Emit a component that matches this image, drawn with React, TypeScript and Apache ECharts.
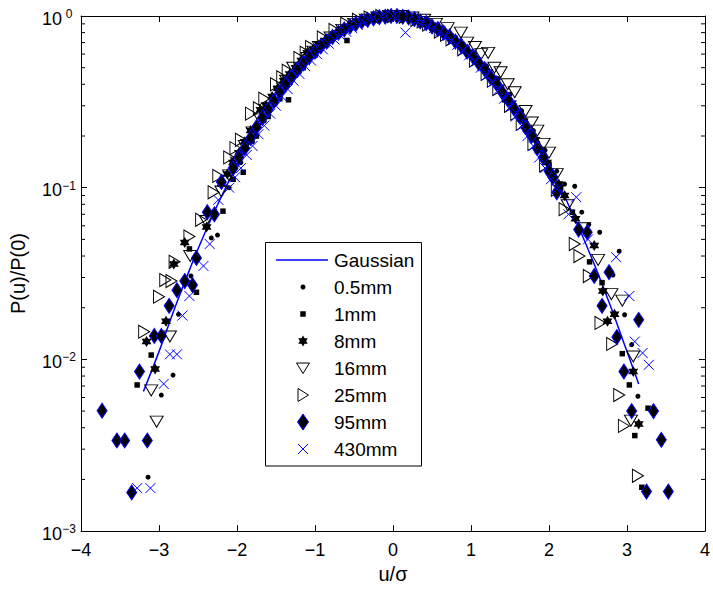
import React, { useEffect, useRef } from 'react';
import * as echarts from 'echarts';

const seriesNames = ['Gaussian', '0.5mm', '1mm', '8mm', '16mm', '25mm', '95mm', '430mm'];

const gaussU = [-3.2, -3.0, -2.8, -2.6, -2.4, -2.2, -2.0, -1.8, -1.6, -1.4, -1.2, -1.0, -0.8, -0.6, -0.4, -0.2, 0, 0.2, 0.4, 0.6, 0.8, 1.0, 1.2, 1.4, 1.6, 1.8, 2.0, 2.2, 2.4, 2.6, 2.8, 3.0, 3.15];
const gaussV = [0.0065, 0.0111, 0.0198, 0.034, 0.0561, 0.0889, 0.135, 0.198, 0.278, 0.375, 0.487, 0.607, 0.726, 0.835, 0.923, 0.98, 1, 0.98, 0.923, 0.835, 0.726, 0.607, 0.487, 0.375, 0.278, 0.198, 0.135, 0.0889, 0.0561, 0.034, 0.0198, 0.0111, 0.0072];

const data05mm = [
  [-3.14, 0.00206], [-2.97, 0.0062], [-2.82, 0.0081], [-2.75, 0.0183], [-2.59, 0.0306], [-2.33, 0.051], [-2.25, 0.053],
  [-2.1, 0.1], [-1.95, 0.14], [-1.8, 0.185], [-1.65, 0.245], [-1.5, 0.31], [-1.35, 0.39], [-1.2, 0.47], [-1.05, 0.57], [-0.9, 0.66], [-0.75, 0.75], [-0.6, 0.84], [-0.45, 0.91], [-0.3, 0.95], [-0.15, 0.99], [0, 1.0], [0.15, 1.0], [0.3, 0.97], [0.45, 0.93], [0.6, 0.86], [0.75, 0.77], [0.9, 0.69], [1.05, 0.6], [1.2, 0.51], [1.35, 0.43], [1.5, 0.35], [1.65, 0.28], [1.8, 0.215], [1.95, 0.165], [2.1, 0.125], [2.2, 0.105],
  [2.33, 0.102], [2.42, 0.072], [2.51, 0.061], [2.65, 0.055], [2.82, 0.031], [2.9, 0.0427], [2.97, 0.0182], [3.06, 0.0122], [3.14, 0.0061],
];
const data1mm = [
  [-3.28, 0.0071], [-3.1, 0.0106], [-2.61, 0.044], [-2.52, 0.0246], [-2.18, 0.073],
  [-2.05, 0.112], [-1.92, 0.123], [-1.75, 0.2], [-1.6, 0.26], [-1.45, 0.33], [-1.34, 0.325], [-1.15, 0.5], [-1.0, 0.59], [-0.85, 0.68], [-0.7, 0.77], [-0.59, 0.72], [-0.4, 0.92], [-0.25, 0.97], [-0.1, 0.99], [0.05, 1.0], [0.2, 0.98], [0.35, 0.94], [0.5, 0.88], [0.65, 0.8], [0.8, 0.72], [0.95, 0.63], [1.1, 0.54], [1.25, 0.45], [1.43, 0.325], [1.55, 0.3], [1.7, 0.235], [1.85, 0.18], [2.0, 0.137], [2.15, 0.1], [2.3, 0.072],
  [2.52, 0.037], [2.68, 0.028], [2.94, 0.0108], [3.03, 0.0071], [3.1, 0.0036], [3.19, 0.0018], [3.27, 0.0052],
];
const data8mm = [
  [-3.16, 0.0127], [-3.05, 0.0088], [-2.91, 0.0167], [-2.81, 0.036], [-2.67, 0.048], [-2.39, 0.059],
  [-2.2, 0.105], [-2.05, 0.14], [-1.9, 0.185], [-1.7, 0.284], [-1.55, 0.34], [-1.4, 0.42], [-1.25, 0.5], [-1.1, 0.61], [-0.95, 0.68], [-0.8, 0.76], [-0.65, 0.84], [-0.5, 0.91], [-0.35, 0.96], [-0.2, 0.99], [-0.05, 1.0], [0.1, 0.99], [0.25, 0.96], [0.4, 0.92], [0.55, 0.86], [0.7, 0.78], [0.85, 0.69], [1.0, 0.6], [1.15, 0.51], [1.3, 0.43], [1.45, 0.345], [1.6, 0.28], [1.75, 0.21], [1.9, 0.165], [2.05, 0.12], [2.2, 0.09],
  [-2.125, 0.12], [-1.975, 0.16], [-1.825, 0.215], [-1.625, 0.3], [-1.475, 0.38], [-1.325, 0.46], [-1.175, 0.55], [-1.025, 0.64], [-0.875, 0.72], [-0.725, 0.8], [-0.575, 0.87], [0.475, 0.89], [0.625, 0.82], [0.775, 0.74], [0.925, 0.645], [1.075, 0.555], [1.225, 0.47], [1.375, 0.385], [1.525, 0.31], [1.675, 0.245], [1.825, 0.19], [1.975, 0.14], [2.125, 0.105],
  [2.34, 0.066], [2.58, 0.046], [2.69, 0.025], [2.75, 0.0167], [2.84, 0.0183], [3.08, 0.0085], [3.15, 0.0042],
];
const data16mm = [
  [-3.1, 0.0066], [-3.03, 0.00434], [-2.86, 0.0136], [-2.6, 0.04], [-2.4, 0.064],
  [-2.2, 0.095], [-2.0, 0.14], [-1.8, 0.21], [-1.6, 0.29], [-1.45, 0.36], [-1.28, 0.5], [-1.1, 0.57], [-0.95, 0.66], [-0.8, 0.75], [-0.65, 0.83], [-0.5, 0.9], [-0.35, 0.95], [-0.2, 0.98], [-0.05, 1.0], [0.1, 1.0], [0.25, 0.98], [0.4, 0.95], [0.55, 0.9], [0.7, 0.85], [0.87, 0.8], [1.05, 0.66], [1.22, 0.61], [1.38, 0.47], [1.56, 0.36], [1.7, 0.28], [1.85, 0.215], [2.0, 0.16], [2.1, 0.12],
  [-2.1, 0.118], [-1.9, 0.175], [-1.7, 0.25], [-1.37, 0.42], [-1.02, 0.62], [0.95, 0.7], [1.13, 0.6], [1.3, 0.5], [1.47, 0.4], [1.78, 0.24], [1.93, 0.18],
  [2.24, 0.079], [2.45, 0.058], [2.63, 0.038], [2.8, 0.024], [2.94, 0.022], [3.05, 0.0044], [3.08, 0.0104],
];
const data25mm = [
  [-3.19, 0.0145], [-3.0, 0.0232], [-2.92, 0.029], [-2.84, 0.0286], [-2.8, 0.037], [-2.61, 0.052], [-2.46, 0.065], [-2.3, 0.094], [-2.24, 0.117],
  [-2.1, 0.15], [-1.95, 0.19], [-1.82, 0.27], [-1.65, 0.33], [-1.5, 0.4], [-1.35, 0.48], [-1.2, 0.57], [-1.05, 0.66], [-0.9, 0.75], [-0.75, 0.83], [-0.6, 0.9], [-0.45, 0.95], [-0.3, 0.98], [-0.15, 1.0], [0, 1.0], [0.15, 0.99], [0.3, 0.95], [0.45, 0.89], [0.6, 0.81], [0.75, 0.73], [0.9, 0.64], [1.05, 0.55], [1.2, 0.46], [1.35, 0.375], [1.5, 0.3], [1.65, 0.235], [1.8, 0.18], [1.95, 0.135], [2.1, 0.097], [2.2, 0.075],
  [-2.02, 0.17], [-1.72, 0.29], [-1.42, 0.44], [-1.12, 0.61], [0.38, 0.93], [0.68, 0.78], [1.28, 0.42], [1.58, 0.27],
  [2.33, 0.047], [2.39, 0.04], [2.51, 0.0306], [2.66, 0.0163], [2.81, 0.0123], [2.9, 0.0062], [2.96, 0.0041], [3.14, 0.0021],
];
const data95mm = [
  [-3.73, 0.00503], [-3.54, 0.00337], [-3.44, 0.00337], [-3.35, 0.00168], [-3.25, 0.0085], [-3.15, 0.00337], [-3.06, 0.0137], [-2.97, 0.0137], [-2.87, 0.0205], [-2.77, 0.0253], [-2.67, 0.0286], [-2.57, 0.0271], [-2.52, 0.039], [-2.38, 0.072], [-2.29, 0.07], [-2.2, 0.108],
  [-2.05, 0.13], [-1.9, 0.17], [-1.75, 0.225], [-1.6, 0.285], [-1.45, 0.36], [-1.3, 0.44], [-1.15, 0.53], [-1.0, 0.62], [-0.85, 0.71], [-0.7, 0.8], [-0.55, 0.87], [-0.4, 0.93], [-0.25, 0.97], [-0.1, 0.99], [0.05, 1.0], [0.2, 0.98], [0.35, 0.93], [0.5, 0.87], [0.65, 0.8], [0.8, 0.71], [0.95, 0.62], [1.1, 0.53], [1.25, 0.44], [1.4, 0.36], [1.55, 0.29], [1.7, 0.225], [1.85, 0.17], [2.0, 0.125],
  [-1.975, 0.15], [-1.825, 0.195], [-1.675, 0.255], [-1.525, 0.32], [-1.375, 0.4], [-1.225, 0.485], [-1.075, 0.575], [-0.925, 0.665], [-0.775, 0.755], [-0.625, 0.835], [-0.475, 0.9], [-0.325, 0.95], [-0.175, 0.985], [-0.025, 1.0], [0.125, 0.99], [0.275, 0.96], [0.425, 0.91], [0.575, 0.84], [0.725, 0.76], [0.875, 0.67], [1.025, 0.58], [1.175, 0.49], [1.325, 0.405], [1.475, 0.325], [1.625, 0.26], [1.775, 0.2], [1.925, 0.15], [2.05, 0.115],
  [2.1, 0.094], [2.38, 0.057], [2.49, 0.055], [2.58, 0.0306], [2.68, 0.0205], [2.77, 0.0322], [2.87, 0.0135], [2.96, 0.0085], [3.06, 0.005], [3.15, 0.017], [3.25, 0.0017], [3.34, 0.005], [3.44, 0.0034], [3.53, 0.0017],
];
const data430mm = [
  [-3.28, 0.00178], [-3.11, 0.00178], [-2.94, 0.0072], [-2.86, 0.0107], [-2.77, 0.0107], [-2.7, 0.018], [-2.61, 0.0234], [-2.43, 0.035], [-2.35, 0.047], [-2.24, 0.085], [-2.1, 0.1],
  [-1.95, 0.13], [-1.8, 0.175], [-1.65, 0.23], [-1.5, 0.3], [-1.35, 0.375], [-1.2, 0.46], [-1.05, 0.55], [-0.9, 0.64], [-0.75, 0.73], [-0.6, 0.81], [-0.45, 0.89], [-0.3, 0.95], [-0.15, 0.99], [0, 1.0], [0.16, 0.8], [0.3, 0.94], [0.45, 0.88], [0.6, 0.81], [0.75, 0.72], [0.9, 0.63], [1.05, 0.54], [1.2, 0.45], [1.35, 0.37], [1.5, 0.295], [1.65, 0.23], [1.8, 0.175], [1.95, 0.13], [2.1, 0.098], [2.25, 0.07],
  [-2.025, 0.115], [-1.875, 0.155], [-1.725, 0.205], [-1.575, 0.27], [-1.425, 0.34], [-1.275, 0.42], [-1.125, 0.51], [-0.975, 0.6], [-0.825, 0.69], [-0.675, 0.77], [-0.525, 0.85], [-0.375, 0.92], [0.375, 0.92], [0.525, 0.85], [0.675, 0.76], [0.825, 0.68], [0.975, 0.59], [1.125, 0.5], [1.275, 0.41], [1.425, 0.33], [1.575, 0.26], [1.725, 0.2], [1.875, 0.15], [2.025, 0.112],
  [2.35, 0.088], [2.5, 0.05], [2.86, 0.0394], [3.03, 0.0234], [3.1, 0.0127], [3.2, 0.0109], [3.28, 0.0093],
];

const minorTickValues = [
  0.002, 0.003, 0.004, 0.005, 0.006, 0.007, 0.008, 0.009,
  0.02, 0.03, 0.04, 0.05, 0.06, 0.07, 0.08, 0.09,
  0.2, 0.3, 0.4, 0.5, 0.6, 0.7, 0.8, 0.9,
];

const FONT = '"Liberation Sans", Arial, Helvetica, sans-serif';
const BLUE = '#0000ff';

const STAR = 'path://M0,-1L0.866,0.5L-0.866,0.5Z M0,1L-0.866,-0.5L0.866,-0.5Z';
const TRI_DOWN = 'path://M0,0L2,0L1,1.6Z';
const TRI_RIGHT = 'path://M0,0L1.6,1L0,2Z';
const DIAMOND = 'path://M1,0L2,1.5L1,3L0,1.5Z';
const CROSS = 'path://M0,0L1,1M1,0L0,1';

function buildLegend() {
  const els: any[] = [];
  const z = 50;
  els.push({
    type: 'rect', z,
    shape: { x: 265.5, y: 242.5, width: 156, height: 223.5 },
    style: { fill: '#fff', stroke: '#000', lineWidth: 1 },
  });
  const cx = 303;
  seriesNames.forEach((name, i) => {
    const y = 260 + i * 27;
    if (i === 0) {
      els.push({ type: 'line', z, shape: { x1: 276, y1: y, x2: 328, y2: y }, style: { stroke: BLUE, lineWidth: 1.5 } });
    } else if (i === 1) {
      els.push({ type: 'circle', z, shape: { cx, cy: y, r: 2.5 }, style: { fill: '#000' } });
    } else if (i === 2) {
      els.push({ type: 'rect', z, shape: { x: cx - 2.75, y: y - 2.75, width: 5.5, height: 5.5 }, style: { fill: '#000' } });
    } else if (i === 3) {
      const r = 5.5, a = r * 0.866, b = r * 0.5;
      els.push({ type: 'polygon', z, shape: { points: [[cx, y - r], [cx + a, y + b], [cx - a, y + b]] }, style: { fill: '#000' } });
      els.push({ type: 'polygon', z, shape: { points: [[cx, y + r], [cx - a, y - b], [cx + a, y - b]] }, style: { fill: '#000' } });
    } else if (i === 4) {
      els.push({ type: 'polygon', z, shape: { points: [[cx - 6.5, y - 5], [cx + 6.5, y - 5], [cx, y + 5.5]] }, style: { fill: 'none', stroke: '#000', lineWidth: 1 } });
    } else if (i === 5) {
      els.push({ type: 'polygon', z, shape: { points: [[cx - 5, y - 6.5], [cx + 5.5, y], [cx - 5, y + 6.5]] }, style: { fill: 'none', stroke: '#000', lineWidth: 1 } });
    } else if (i === 6) {
      els.push({ type: 'polygon', z, shape: { points: [[cx, y - 8], [cx + 5.5, y], [cx, y + 8], [cx - 5.5, y]] }, style: { fill: '#000', stroke: BLUE, lineWidth: 1 } });
    } else if (i === 7) {
      els.push({ type: 'line', z, shape: { x1: cx - 5, y1: y - 5, x2: cx + 5, y2: y + 5 }, style: { stroke: BLUE, lineWidth: 1 } });
      els.push({ type: 'line', z, shape: { x1: cx + 5, y1: y - 5, x2: cx - 5, y2: y + 5 }, style: { stroke: BLUE, lineWidth: 1 } });
    }
    els.push({
      type: 'text', z, x: 334, y,
      style: { text: name, fill: '#000', fontSize: 19, fontFamily: FONT, align: 'left', verticalAlign: 'middle' },
    });
  });
  return els;
}

function xLabel(v: number) {
  return v < 0 ? '\u2212' + Math.abs(v) : String(v);
}
function yLabel(v: number) {
  const e = Math.round(Math.log10(v));
  const s = e < 0 ? '\u2212' + -e : String(e);
  return `{b|10}{s|${s}}`;
}

const axisLineStyle = { show: true, onZero: false, lineStyle: { color: '#000', width: 1 } };
const tickStyle = { show: true, inside: true, length: 6, lineStyle: { color: '#000', width: 1 } };

function buildOption() {
  const scatterBase = { type: 'scatter', xAxisIndex: 0, yAxisIndex: 0, symbolKeepAspect: false, silent: true };
  return {
    animation: false,
    backgroundColor: '#fff',
    grid: { left: 78, right: 3, top: 16, bottom: 56 },
    xAxis: [
      {
        type: 'value', min: -4, max: 4, interval: 1, position: 'bottom',
        axisLine: axisLineStyle, axisTick: tickStyle, splitLine: { show: false },
        axisLabel: { color: '#000', fontSize: 18, fontFamily: FONT, margin: 10, formatter: xLabel },
        name: 'u/\u03c3', nameLocation: 'middle', nameGap: 32,
        nameTextStyle: { color: '#000', fontSize: 20, fontFamily: FONT },
      },
      {
        type: 'value', min: -4, max: 4, interval: 1, position: 'top',
        axisLine: axisLineStyle, axisTick: tickStyle, splitLine: { show: false }, axisLabel: { show: false },
      },
    ],
    yAxis: [
      {
        type: 'log', logBase: 10, min: 0.001, max: 1, position: 'left',
        axisLine: axisLineStyle, axisTick: tickStyle, splitLine: { show: false },
        axisLabel: {
          color: '#000', margin: 5, formatter: yLabel,
          rich: {
            b: { fontSize: 18, fontFamily: FONT, color: '#000', padding: [5, 0, 0, 0] },
            s: { fontSize: 12, fontFamily: FONT, color: '#000', padding: [0, 0, 4, 0], width: 14, align: 'left' },
          },
        },
        name: 'P(u)/P(0)', nameLocation: 'middle', nameGap: 53, nameRotate: 90,
        nameTextStyle: { color: '#000', fontSize: 20, fontFamily: FONT },
      },
      {
        type: 'log', logBase: 10, min: 0.001, max: 1, position: 'right',
        axisLine: axisLineStyle, axisTick: tickStyle, splitLine: { show: false }, axisLabel: { show: false },
      },
    ],
    series: [
      {
        type: 'custom', name: 'minorTicks', xAxisIndex: 0, yAxisIndex: 0, silent: true, clip: false, z: 1,
        data: minorTickValues.map((v) => [-4, v]),
        renderItem: (params: any, api: any) => {
          const y = api.coord([0, api.value(1)])[1];
          const xl = api.coord([-4, 1])[0];
          const xr = api.coord([4, 1])[0];
          return {
            type: 'group',
            children: [
              { type: 'line', shape: { x1: xl, y1: y, x2: xl + 4, y2: y }, style: { stroke: '#000', lineWidth: 1 } },
              { type: 'line', shape: { x1: xr - 4, y1: y, x2: xr, y2: y }, style: { stroke: '#000', lineWidth: 1 } },
            ],
          };
        },
      },
      {
        type: 'line', name: seriesNames[0], xAxisIndex: 0, yAxisIndex: 0, silent: true,
        data: gaussU.map((u, i) => [u, gaussV[i]]), showSymbol: false, smooth: true,
        lineStyle: { color: BLUE, width: 1.5 }, z: 2,
      },
      { ...scatterBase, name: seriesNames[1], data: data05mm, symbol: 'circle', symbolSize: 5, itemStyle: { color: '#000', opacity: 1 }, z: 3 },
      { ...scatterBase, name: seriesNames[2], data: data1mm, symbol: 'rect', symbolSize: 5.5, itemStyle: { color: '#000', opacity: 1 }, z: 3 },
      { ...scatterBase, name: seriesNames[3], data: data8mm, symbol: STAR, symbolSize: [10, 11], itemStyle: { color: '#000', opacity: 1 }, z: 3 },
      { ...scatterBase, name: seriesNames[4], data: data16mm, symbol: TRI_DOWN, symbolSize: [13, 11], itemStyle: { color: 'transparent', borderColor: '#000', borderWidth: 1, opacity: 1 }, z: 3 },
      { ...scatterBase, name: seriesNames[5], data: data25mm, symbol: TRI_RIGHT, symbolSize: [11, 13], itemStyle: { color: 'transparent', borderColor: '#000', borderWidth: 1, opacity: 1 }, z: 3 },
      { ...scatterBase, name: seriesNames[6], data: data95mm, symbol: DIAMOND, symbolSize: [10, 15], itemStyle: { color: '#000', borderColor: BLUE, borderWidth: 1, opacity: 1 }, z: 3 },
      { ...scatterBase, name: seriesNames[7], data: data430mm, symbol: CROSS, symbolSize: [10, 10], itemStyle: { color: 'transparent', borderColor: BLUE, borderWidth: 1, opacity: 1 }, z: 3 },
    ],
    graphic: buildLegend(),
  };
}

export default function App() {
  const ref = useRef<HTMLDivElement>(null);
  useEffect(() => {
    const chart = echarts.init(ref.current!, null, { renderer: 'svg' });
    chart.setOption(buildOption() as any);
    return () => chart.dispose();
  }, []);
  return (
    <div
      ref={ref}
      style={{ position: 'fixed', left: 0, top: 0, width: 713, height: 589, background: '#fff' }}
    />
  );
}
